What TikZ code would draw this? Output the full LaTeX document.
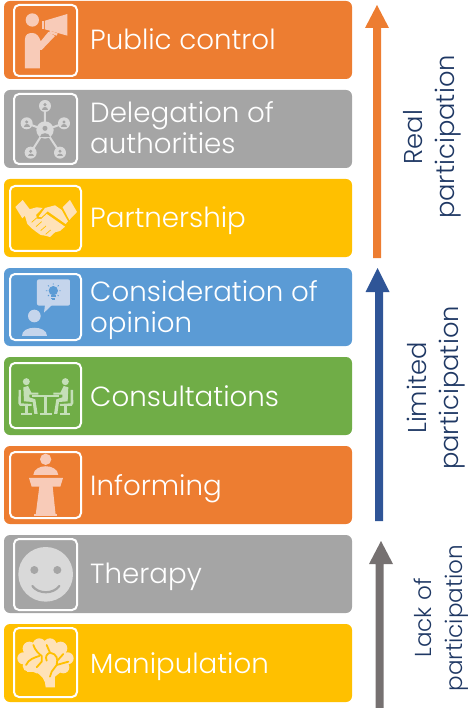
\documentclass[tikz,border=0pt]{standalone}
\usepackage{fontspec}
\setmainfont{Poppins}[UprightFont=* Light]
\definecolor{corange}{HTML}{ED7D31}
\definecolor{cgray}{HTML}{A5A5A5}
\definecolor{cyellow}{HTML}{FFC000}
\definecolor{cblue}{HTML}{5B9BD5}
\definecolor{cgreen}{HTML}{70AD47}
\definecolor{aorange}{HTML}{ED7D31}
\definecolor{ablue}{HTML}{2F5597}
\definecolor{agray}{HTML}{767171}
\definecolor{navy}{HTML}{1F3864}
\definecolor{porange}{HTML}{F8CBB8}
\definecolor{pgray}{HTML}{D9D9D9}
\definecolor{pyellow}{HTML}{FFE2B8}
\definecolor{pblue}{HTML}{C5D5EC}
\definecolor{pgreen}{HTML}{C5DFB8}
\tikzset{
  band/.style={rounded corners=6pt,fill=#1,draw=none},
  frame/.style={rounded corners=5pt,draw=white,line width=2pt},
  bandtext/.style={anchor=base west,align=left,text=white,font=\fontsize{27.7}{31}\selectfont,inner sep=0pt},
  sidetext/.style={rotate=90,align=center,text=navy,font=\fontsize{25.8}{32}\selectfont,inner sep=0pt},
  sidesmall/.style={rotate=90,align=center,text=navy,font=\fontsize{23.1}{31}\selectfont,inner sep=0pt},
  zoomed/.style={x=0.3333pt,y=-0.3333pt,shift={(0pt,-#1pt)}},
}
\begin{document}
\begin{tikzpicture}[x=1pt,y=-1pt]
\useasboundingbox (0,0) rectangle (469,708);
% bands
\foreach \nm/\yy/\cc in {a/1/corange,b/90/cgray,c/179/cyellow,d/268/cblue,e/357/cgreen,f/446/corange,g/535/cgray,h/624/cyellow}{
  \path[band=\cc] (4,\yy) rectangle ++(348,78);
}
% frames
\draw[frame] (14,5) rectangle (77,76);
\draw[frame] (14,94) rectangle (77,164);
\draw[frame] (10,186) rectangle (81,251);
\draw[frame] (10,274) rectangle (81,340);
\draw[frame] (10,363) rectangle (81,428);
\draw[frame] (10,452) rectangle (81,518);
\draw[frame] (14,539) rectangle (77,610);
\draw[frame] (14,628) rectangle (77,697);
% labels
\node[bandtext] (t1) at (90,50) {Public control};
\node[bandtext] (t2) at (90,154) {Delegation of\\authorities};
\node[bandtext] (t3) at (90,228) {Partnership};
\node[bandtext] (t4) at (90,332) {Consideration of\\opinion};
\node[bandtext] (t5) at (90,406) {Consultations};
\node[bandtext] (t6) at (90,495) {Informing};
\node[bandtext] (t7) at (90,583.5) {Therapy};
\node[bandtext] (t8) at (90,673) {Manipulation};
% arrows
\fill[aorange] (373,258) -- (373,28) -- (365,28) -- (377,5) -- (389,28) -- (381,28) -- (381,258) -- cycle;
\fill[ablue] (375,521) -- (375,292) -- (365.5,292) -- (377.5,268) -- (389.5,292) -- (383,292) -- (383,521) -- cycle;
\fill[agray] (375.5,708) -- (375.5,564) -- (369,564) -- (381,541) -- (393,564) -- (383.5,564) -- (383.5,708) -- cycle;
% side labels
\node[sidetext] (s1) at (432,137) {Real\\participation};
\node[sidetext] (s2) at (436,388) {Limited\\participation};
\node[sidesmall] (s3) at (441,618) {Lack of\\participation};
% public control icon
\begin{scope}[zoomed=0]
\fill[porange] (97,60) circle (20);
\fill[porange] (75,205) -- (75,118) .. controls (75,103) and (85,99) .. (97,99) .. controls (110,99) and (118,110) .. (122,124) -- (145,96) -- (165,108) -- (125,150) -- (120,150) -- (120,205) -- cycle;
\fill[porange] (135,62) -- (202,42) -- (202,107) -- (135,88) -- cycle;
\fill[porange] (125,64) rectangle (132,86);
\fill[porange] (150,92) -- (173,100) -- (170,107) -- (147,99) -- cycle;
\end{scope}
% delegation icon
\begin{scope}[zoomed=0]
\draw[pgray,line width=2pt] (135,318) -- (135,390) (80,370) -- (135,390) -- (192,370) (92,458) -- (135,390) -- (180,458);
\fill[pgray] (135,390) circle (26);
\foreach \px/\py in {135/318,80/370,192/370,92/458,180/458}{
  \fill[pgray] (\px,\py) circle (18);
  \fill[cgray] (\px,\py-4) circle (5);
  \fill[cgray] (\px-9,\py+11) .. controls (\px-9,\py) and (\px+9,\py) .. (\px+9,\py+11) -- cycle;
}
\fill[cgray] (135,385) circle (7.5);
\fill[cgray] (121,412) .. controls (121,396) and (149,396) .. (149,412) -- cycle;
\end{scope}
% handshake icon
\begin{scope}[zoomed=0]
\fill[pyellow] (46,621) -- (68,600) -- (91,630) -- (67,655) -- cycle;
\fill[pyellow] (188,622) -- (210,600) -- (231,636) -- (208,660) -- cycle;
\fill[pyellow] (72,638) -- (88,628) -- (110,622) -- (128,624) -- (108,645) -- (112,657) -- (124,657) -- (140,642) -- (195,680) -- (180,693) -- (165,697) -- (150,711) -- (135,707) -- (122,705) -- (108,695) -- (95,685) -- (82,672) -- cycle;
\fill[pyellow] (135,624) -- (165,616) -- (185,630) -- (204,664) -- (197,672) -- (143,634) -- (124,652) -- (116,650) -- cycle;
\draw[cyellow,line width=0.7pt] (95,667) -- (112,652) (108,680) -- (125,665) (122,692) -- (138,678) (137,703) -- (152,690);
\end{scope}
% consideration icon
\begin{scope}[zoomed=260]
\fill[pblue,rounded corners=2pt] (111,58) rectangle (210,137);
\fill[pblue] (135,135) -- (156,135) -- (132,158) -- cycle;
\fill[cblue] (160,92) circle (14);
\fill[cblue] (152,106) rectangle (168,110);
\draw[cblue,line width=0.8pt] (154,114) -- (166,114) (156,119) -- (164,119);
\draw[cblue,line width=0.8pt] (160,70) -- (160,74) (138,92) -- (142,92) (178,92) -- (182,92) (144,76) -- (147,79) (176,76) -- (173,79) (144,108) -- (147,105) (176,108) -- (173,105);
\fill[pblue] (103,168) circle (19);
\fill[pblue] (66,228) .. controls (64,195) and (142,195) .. (141,228) -- cycle;
\end{scope}
% consultations icon
\begin{scope}[zoomed=260]
\fill[pgreen] (79,365) circle (10.5);
\fill[pgreen] (196,365) circle (10.5);
\fill[pgreen] (97,404) rectangle (178,411);
\fill[pgreen] (133,411) rectangle (142,460);
\fill[pgreen] (120,458) rectangle (155,464);
% left person
\fill[pgreen] (70,382) -- (84,378) -- (94,398) -- (115,398) -- (115,404) -- (88,404) -- (88,412) -- (106,418) -- (113,462) -- (103,462) -- (98,426) -- (72,424) -- cycle;
\fill[pgreen] (56,390) -- (63,390) -- (63,430) -- (95,432) -- (95,438) -- (60,438) -- (55,430) -- cycle;
\fill[pgreen] (75,438) rectangle (83,458);
\fill[pgreen] (64,458) rectangle (95,464);
% right person
\fill[pgreen] (205,382) -- (191,378) -- (181,398) -- (160,398) -- (160,404) -- (187,404) -- (187,412) -- (169,418) -- (162,462) -- (172,462) -- (177,426) -- (203,424) -- cycle;
\fill[pgreen] (219,390) -- (212,390) -- (212,430) -- (180,432) -- (180,438) -- (215,438) -- (220,430) -- cycle;
\fill[pgreen] (192,438) rectangle (200,458);
\fill[pgreen] (180,458) rectangle (211,464);
\end{scope}
% informing icon
\begin{scope}[zoomed=260]
\fill[porange] (137,598) circle (17);
\fill[porange] (100,645) .. controls (102,610) and (172,610) .. (175,645) -- cycle;
\fill[porange] (87,654) -- (189,654) -- (181,680) -- (158,680) -- (167,765) -- (107,765) -- (118,680) -- (95,680) -- cycle;
\fill[porange] (102,763) rectangle (172,768);
\end{scope}
% therapy icon
\begin{scope}[zoomed=530]
\fill[pgray] (137,133) circle (82);
\fill[cgray] (103,120) circle (12);
\fill[cgray] (172,120) circle (12);
\draw[cgray,line width=2.2pt,line cap=round] (97,168) .. controls (115,193) and (160,193) .. (178,168);
\end{scope}
% brain icon
\begin{scope}[zoomed=530]
\fill[pyellow] (70,385) circle (18) (88,355) circle (20) (118,345) circle (20) (150,345) circle (20) (182,355) circle (20) (203,385) circle (18) (190,412) circle (18) (85,408) circle (17) (110,415) circle (15);
\fill[pyellow] (80,350) rectangle (195,425);
\fill[pyellow] (137,472) .. controls (137,450) and (125,435) .. (105,425) -- (190,420) -- (165,440) -- (165,472) -- cycle;
\draw[cyellow,line width=1.8pt,line cap=round] (78,405) .. controls (85,388) and (105,382) .. (118,378) (100,345) .. controls (105,360) and (115,370) .. (125,378) -- (125,395) -- (110,412)
 (140,345) -- (150,368) (150,368) .. controls (140,372) and (135,380) .. (140,392) (150,368) .. controls (170,372) and (175,385) .. (170,405) -- (155,425) -- (150,440) (190,372) -- (172,392) (170,405) -- (205,395);
\end{scope}
\end{tikzpicture}
\end{document}
